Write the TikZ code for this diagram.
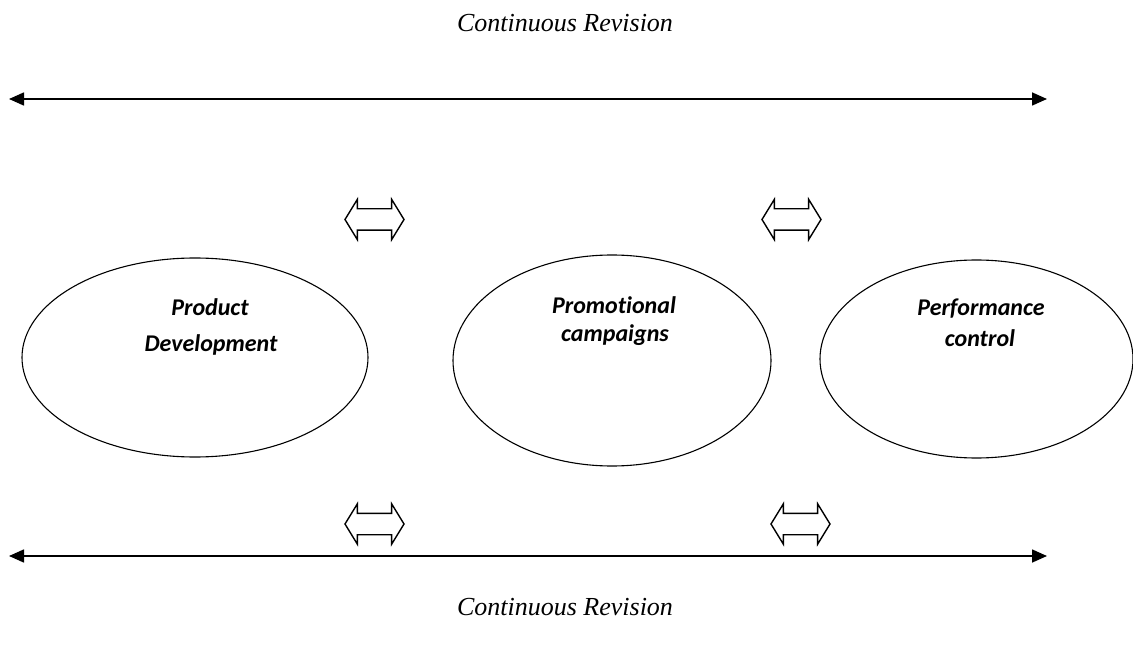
\documentclass[tikz,border=0pt]{standalone}
\usepackage{fontspec}
\setmainfont{Liberation Serif}
\newfontfamily\labelfont[Ligatures=NoCommon]{Carlito}
\usetikzlibrary{arrows.meta, shapes.geometric, shapes.arrows}

\begin{document}
\begin{tikzpicture}[
	x=1pt, y=-1pt,
	>={Triangle[length=15pt,width=13pt]},
	line width=1.6pt
]

\tikzstyle{phase} = [ellipse, draw, line width=1.1pt, inner sep=0pt];
\tikzstyle{phase text} = [font=\labelfont\bfseries\itshape\fontsize{24}{28}\selectfont, anchor=base];
\tikzstyle{revision} = [font=\itshape\fontsize{26}{30}\selectfont, anchor=base];
\tikzstyle{exchange} = [double arrow, draw, line width=1.4pt, minimum height=59pt,
                        inner xsep=0pt, inner ysep=10pt,
                        double arrow head extend=9.5pt, double arrow tip angle=117];

\useasboundingbox (0,0) rectangle (1133,652);

 % the three phases
 \node [phase, minimum width=346pt, minimum height=199pt] (pd) at (195,357.5)   {};
 \node [phase, minimum width=318pt, minimum height=211pt] (pc) at (612,360.5)   {};
 \node [phase, minimum width=313pt, minimum height=198pt] (pf) at (976.5,359)   {};

 \node [phase text] (pd1) at (210,316) {Product};
 \node [phase text] (pd2) at (211,352) {Development};
 \node [phase text] (pc1) at (614,314) {Promotional};
 \node [phase text] (pc2) at (615,342) {campaigns};
 \node [phase text] (pf1) at (981,316) {Performance};
 \node [phase text] (pf2) at (980,347) {control};

 % exchanges between phases
 \node [exchange] (x_tl) at (374.5,219.5) {};
 \node [exchange] (x_tr) at (791.5,219.5) {};
 \node [exchange] (x_bl) at (374.5,524)   {};
 \node [exchange] (x_br) at (800.5,524)   {};

 % continuous revision
 \node [revision] (rev_t) at (565,32)  {Continuous Revision};
 \node [revision] (rev_b) at (565,615) {Continuous Revision};

 \coordinate (t_l) at (9,99);
 \coordinate (t_r) at (1047,99);
 \coordinate (b_l) at (9,556);
 \coordinate (b_r) at (1047,556);

 \draw [<->] (t_l) -- (t_r);
 \draw [<->] (b_l) -- (b_r);

\end{tikzpicture}
\end{document}
